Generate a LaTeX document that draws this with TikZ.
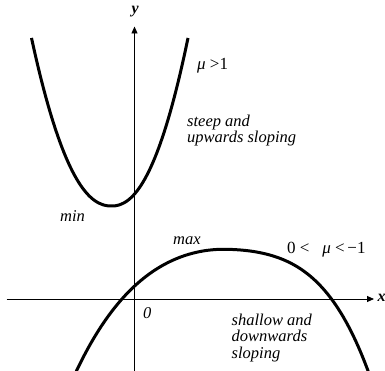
\documentclass[tikz,border=0pt]{standalone}
\usepackage{fontspec}
\setmainfont{Liberation Serif}
\usetikzlibrary{arrows.meta,positioning}

\begin{document}
\begin{tikzpicture}[x=1pt, y=-1pt,
  axis/.style={line width=0.9pt, -{Triangle[length=7pt, width=6pt]}},
  curve/.style={line width=3pt},
  lbl/.style={font=\fontsize{16.5}{16.2}\selectfont\itshape, inner sep=0pt, align=left, anchor=base west},
  num/.style={font=\fontsize{17}{16.2}\selectfont, inner sep=0pt, anchor=base west},
  axlbl/.style={font=\fontsize{16}{16}\selectfont\bfseries\itshape, inner sep=0pt, anchor=base west}
]
  \useasboundingbox (0,0) rectangle (385,371);

  % axes
  \coordinate (ybot) at (134.5,372);
  \coordinate (ytop) at (134.5,26.5);
  \coordinate (xleft) at (6.5,299);
  \coordinate (xright) at (374,299);
  \draw[axis] (ybot) -- (ytop);
  \draw[axis] (xleft) -- (xright);
  \node[axlbl] (ylab) at (131.5,13.5) {y};
  \node[axlbl] (xlab) at (377.5,301) {x};
  \node[lbl] (orig) at (143,318) {0};

  % steep curve, mu > 1
  \draw[curve] plot[domain=-80:0, samples=40] ({111.5+\x},{206-168*pow(-\x/80+0.0001,2.2)})
    -- plot[domain=0:76.5, samples=40] ({111.5+\x},{206-168*pow(\x/76.5+0.0001,2.2)});

  % shallow curve, 0 < mu < -1
  \draw[curve] plot[domain=-150:0, samples=50] ({223.3+\x},{249.3+41.1*(\x/100)^2+7.1*(\x/100)^4})
    -- plot[domain=0:147, samples=50] ({223.3+\x},{249.3+22.76*(\x/100)^2+16.84*(\x/100)^4});

  % labels
  \node[num] (mu1) at (197,70) {\textit{μ} >1};
  \node[lbl] (steep) at (187,142.5) {steep and\\upwards sloping};
  \node[lbl] (min) at (60,221.5) {min};
  \node[lbl] (max) at (173,244) {max};
  \node[num] (mu2) at (287,253) {0 <\ \ \ \textit{μ} <\,−1};
  \node[lbl] (shallow) at (231.5,358) {shallow and\\downwards\\sloping};
\end{tikzpicture}
\end{document}
